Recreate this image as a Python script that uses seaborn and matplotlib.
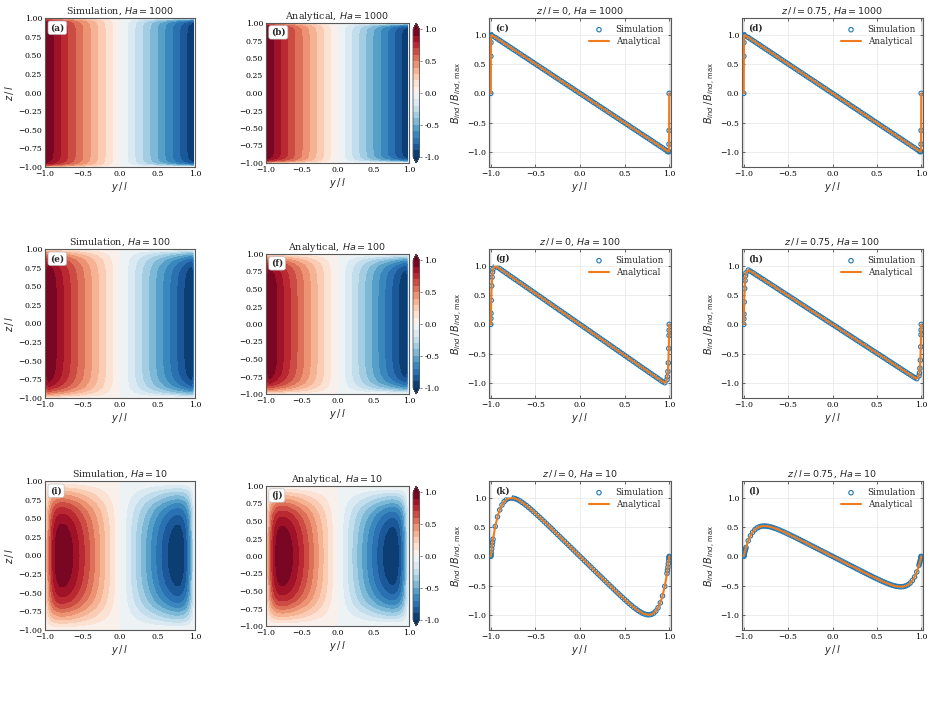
import numpy as np
import matplotlib
matplotlib.use('Agg')
import matplotlib.pyplot as plt
import seaborn as sns

# sample positions across the duct (y / l), shared by all profiles
y_pts = [-1.0, -0.999, -0.998, -0.995, -0.99, -0.985, -0.98,
         -0.975, -0.95, -0.925, -0.9, -0.875, -0.85, -0.825, -0.8, -0.775, -0.75,
         -0.725, -0.7, -0.675, -0.65, -0.625, -0.6, -0.575, -0.55, -0.525, -0.5,
         -0.475, -0.45, -0.425, -0.4, -0.375, -0.35, -0.325, -0.3, -0.275, -0.25,
         -0.225, -0.2, -0.175, -0.15, -0.125, -0.1, -0.075, -0.05, -0.025, 0.0,
         0.025, 0.05, 0.075, 0.1, 0.125, 0.15, 0.175, 0.2, 0.225, 0.25,
         0.275, 0.3, 0.325, 0.35, 0.375, 0.4, 0.425, 0.45, 0.475, 0.5,
         0.525, 0.55, 0.575, 0.6, 0.625, 0.65, 0.675, 0.7, 0.725, 0.75,
         0.775, 0.8, 0.825, 0.85, 0.875, 0.9, 0.925, 0.95, 0.975,
         0.98, 0.985, 0.99, 0.995, 0.998, 0.999, 1.0]

# B_ind / B_ind,max along y (c), (g), (k) at z/l = 0
b_ha1000_z0 = [0.0, 0.636, 0.870, 0.996, 0.998, 0.993, 0.988,
               0.983, 0.958, 0.932, 0.907, 0.882, 0.857, 0.832, 0.806, 0.781, 0.756,
               0.731, 0.706, 0.680, 0.655, 0.630, 0.605, 0.580, 0.554, 0.529, 0.504,
               0.479, 0.454, 0.428, 0.403, 0.378, 0.353, 0.328, 0.302, 0.277, 0.252,
               0.227, 0.202, 0.176, 0.151, 0.126, 0.101, 0.076, 0.050, 0.025, 0.0,
               -0.025, -0.050, -0.076, -0.101, -0.126, -0.151, -0.176, -0.202, -0.227, -0.252,
               -0.277, -0.302, -0.328, -0.353, -0.378, -0.403, -0.428, -0.454, -0.479, -0.504,
               -0.529, -0.554, -0.580, -0.605, -0.630, -0.655, -0.680, -0.706, -0.731, -0.756,
               -0.781, -0.806, -0.832, -0.857, -0.882, -0.907, -0.932, -0.958, -0.983,
               -0.988, -0.993, -0.998, -0.996, -0.870, -0.636, 0.0]
b_ha100_z0 = [0.0, 0.100, 0.190, 0.412, 0.659, 0.807, 0.895,
              0.946, 0.999, 0.979, 0.953, 0.927, 0.900, 0.874, 0.847, 0.821, 0.794,
              0.768, 0.742, 0.715, 0.689, 0.662, 0.636, 0.609, 0.583, 0.556, 0.530,
              0.503, 0.477, 0.450, 0.424, 0.397, 0.371, 0.344, 0.318, 0.291, 0.265,
              0.238, 0.212, 0.185, 0.159, 0.132, 0.106, 0.079, 0.053, 0.026, 0.0,
              -0.026, -0.053, -0.079, -0.106, -0.132, -0.159, -0.185, -0.212, -0.238, -0.265,
              -0.291, -0.318, -0.344, -0.371, -0.397, -0.424, -0.450, -0.477, -0.503, -0.530,
              -0.556, -0.583, -0.609, -0.636, -0.662, -0.689, -0.715, -0.742, -0.768, -0.794,
              -0.821, -0.847, -0.874, -0.900, -0.927, -0.953, -0.979, -0.999, -0.946,
              -0.895, -0.807, -0.659, -0.412, -0.190, -0.100, 0.0]
b_ha10_z0 = [0.0, 0.013, 0.027, 0.065, 0.127, 0.186, 0.241,
             0.293, 0.513, 0.676, 0.795, 0.879, 0.936, 0.972, 0.992, 1.000, 0.997,
             0.987, 0.971, 0.950, 0.925, 0.898, 0.869, 0.837, 0.805, 0.771, 0.736,
             0.701, 0.666, 0.630, 0.594, 0.557, 0.520, 0.484, 0.447, 0.410, 0.372,
             0.335, 0.298, 0.261, 0.224, 0.186, 0.149, 0.112, 0.075, 0.037, 0.0,
             -0.037, -0.075, -0.112, -0.149, -0.186, -0.224, -0.261, -0.298, -0.335, -0.372,
             -0.410, -0.447, -0.484, -0.520, -0.557, -0.594, -0.630, -0.666, -0.701, -0.736,
             -0.771, -0.805, -0.837, -0.869, -0.898, -0.925, -0.950, -0.971, -0.987, -0.997,
             -1.000, -0.992, -0.972, -0.936, -0.879, -0.795, -0.676, -0.513, -0.293,
             -0.241, -0.186, -0.127, -0.065, -0.027, -0.013, 0.0]

# same, at z/l = 0.75 (d), (h), (l)
b_ha1000_z075 = list(b_ha1000_z0)  # reads identical to z/l = 0
b_ha100_z075 = [0.0, 0.093, 0.177, 0.383, 0.613, 0.751, 0.832,
                0.880, 0.929, 0.910, 0.886, 0.862, 0.837, 0.813, 0.788, 0.764, 0.738,
                0.714, 0.690, 0.665, 0.641, 0.616, 0.591, 0.566, 0.542, 0.517, 0.493,
                0.468, 0.444, 0.419, 0.394, 0.369, 0.345, 0.320, 0.296, 0.271, 0.246,
                0.221, 0.197, 0.172, 0.148, 0.123, 0.099, 0.073, 0.049, 0.024, 0.0,
                -0.024, -0.049, -0.073, -0.099, -0.123, -0.148, -0.172, -0.197, -0.221, -0.246,
                -0.271, -0.296, -0.320, -0.345, -0.369, -0.394, -0.419, -0.444, -0.468, -0.493,
                -0.517, -0.542, -0.566, -0.591, -0.616, -0.641, -0.665, -0.690, -0.714, -0.738,
                -0.764, -0.788, -0.813, -0.837, -0.862, -0.886, -0.910, -0.929, -0.880,
                -0.832, -0.751, -0.613, -0.383, -0.177, -0.093, 0.0]
b_ha10_z075 = [0.0, 0.007, 0.014, 0.034, 0.066, 0.097, 0.125,
               0.152, 0.267, 0.352, 0.413, 0.457, 0.487, 0.505, 0.516, 0.520, 0.518,
               0.513, 0.505, 0.494, 0.481, 0.467, 0.452, 0.435, 0.419, 0.401, 0.383,
               0.365, 0.346, 0.328, 0.309, 0.290, 0.270, 0.252, 0.232, 0.213, 0.193,
               0.174, 0.155, 0.136, 0.116, 0.097, 0.077, 0.058, 0.039, 0.019, 0.0,
               -0.019, -0.039, -0.058, -0.077, -0.097, -0.116, -0.136, -0.155, -0.174, -0.193,
               -0.213, -0.232, -0.252, -0.270, -0.290, -0.309, -0.328, -0.346, -0.365, -0.383,
               -0.401, -0.419, -0.435, -0.452, -0.467, -0.481, -0.494, -0.505, -0.513, -0.518,
               -0.520, -0.516, -0.505, -0.487, -0.457, -0.413, -0.352, -0.267, -0.152,
               -0.125, -0.097, -0.066, -0.034, -0.014, -0.007, 0.0]

# decay of the field towards the z walls
z_pts = [-1.0, -0.99, -0.98, -0.97, -0.96, -0.95, -0.93, -0.9, -0.85, -0.8, -0.75,
         -0.7, -0.6, -0.5, -0.4, -0.3, -0.2, -0.1, 0.0, 0.1, 0.2, 0.3, 0.4, 0.5, 0.6,
         0.7, 0.75, 0.8, 0.85, 0.9, 0.93, 0.95, 0.96, 0.97, 0.98, 0.99, 1.0]
g_ha1000 = [0.0, 0.35, 0.55, 0.70, 0.80, 0.87, 0.94, 0.98, 0.995, 1.0, 1.0,
            1.0, 1.0, 1.0, 1.0, 1.0, 1.0, 1.0, 1.0, 1.0, 1.0, 1.0, 1.0, 1.0, 1.0,
            1.0, 1.0, 1.0, 0.995, 0.98, 0.94, 0.87, 0.80, 0.70, 0.55, 0.35, 0.0]
g_ha100 = [0.0, 0.10, 0.19, 0.27, 0.35, 0.41, 0.52, 0.65, 0.80, 0.88, 0.93,
           0.96, 0.986, 0.995, 1.0, 1.0, 1.0, 1.0, 1.0, 1.0, 1.0, 1.0, 1.0, 0.995, 0.986,
           0.96, 0.93, 0.88, 0.80, 0.65, 0.52, 0.41, 0.35, 0.27, 0.19, 0.10, 0.0]
g_ha10 = [0.0, 0.022, 0.044, 0.066, 0.088, 0.11, 0.155, 0.22, 0.33, 0.43, 0.52,
          0.62, 0.76, 0.85, 0.915, 0.955, 0.98, 0.995, 1.0, 0.995, 0.98, 0.955, 0.915, 0.85, 0.76,
          0.62, 0.52, 0.43, 0.33, 0.22, 0.155, 0.11, 0.088, 0.066, 0.044, 0.022, 0.0]

hartmann = [1000, 100, 10]
profiles_z0 = [b_ha1000_z0, b_ha100_z0, b_ha10_z0]
profiles_z075 = [b_ha1000_z075, b_ha100_z075, b_ha10_z075]
z_decay = [g_ha1000, g_ha100, g_ha10]
panel_tags = ['a', 'b', 'c', 'd', 'e', 'f', 'g', 'h', 'i', 'j', 'k', 'l']

sns.set_theme(style='ticks')
plt.rcParams['font.family'] = ['DejaVu Serif', 'DejaVu Sans']
plt.rcParams.update({
    'mathtext.fontset': 'dejavusans',
    'xtick.direction': 'in', 'ytick.direction': 'in',
    'xtick.top': True, 'ytick.right': True,
    'xtick.major.size': 2.5, 'ytick.major.size': 2.5,
    'xtick.major.width': 0.6, 'ytick.major.width': 0.6,
    'xtick.color': '0.3', 'ytick.color': '0.3',
    'xtick.labelcolor': 'black', 'ytick.labelcolor': 'black',
    'xtick.labelsize': 5.6, 'ytick.labelsize': 5.6,
    'xtick.major.pad': 2, 'ytick.major.pad': 2,
    'axes.edgecolor': '0.35', 'axes.linewidth': 0.8,
    'axes.titlesize': 6.8, 'axes.labelsize': 7, 'axes.titlepad': 3,
    'axes.labelpad': 1.5,
})

blue = '#1f77b4'
orange = '#ef7b1e'
levels = np.linspace(-1, 1, 21)
W, H = 934, 705


def box(left, top, width, height):
    return [left / W, 1 - (top + height) / H, width / W, height / H]


def tag(ax, letter, framed):
    ax.text(0.035, 0.965, f'({letter})', transform=ax.transAxes, fontsize=6.3,
            fontweight='bold', va='top', ha='left', zorder=10,
            bbox=dict(boxstyle='round,pad=0.25', fc='white',
                      ec='0.75' if framed else 'none', lw=0.5))


fig = plt.figure(figsize=(W / 100, H / 100), dpi=100)
row_tops = [18, 249, 481]

for r, ha in enumerate(hartmann):
    top = row_tops[r]
    field = np.outer(z_decay[r], profiles_z0[r])

    # contour maps: simulation and analytical
    ax_sim = fig.add_axes(box(45, top, 150, 149))
    ax_ana = fig.add_axes(box(266, top + 5, 143, 140))
    for ax, name, k in [(ax_sim, 'Simulation', 0), (ax_ana, 'Analytical', 1)]:
        cf = ax.contourf(y_pts, z_pts, field, levels=levels, cmap='RdBu_r', extend='both')
        ax.set_xlim(-1, 1)
        ax.set_ylim(-1, 1)
        ax.set_xticks([-1.0, -0.5, 0.0, 0.5, 1.0])
        ax.set_yticks([-1.0, -0.75, -0.5, -0.25, 0.0, 0.25, 0.5, 0.75, 1.0])
        ax.xaxis.set_major_formatter('{x:.1f}')
        ax.yaxis.set_major_formatter('{x:.2f}')
        ax.set_title(f'{name}, $Ha = {ha}$')
        ax.set_xlabel(r'$y\,/\,l$')
        tag(ax, panel_tags[4 * r + k], True)
    ax_sim.set_ylabel(r'$z\,/\,l$')

    cax = fig.add_axes(box(413, top + 5, 6.5, 140))
    cb = fig.colorbar(cf, cax=cax, ticks=[-1.0, -0.5, 0.0, 0.5, 1.0], format='%.1f')
    cb.outline.set_edgecolor('0.35')
    cb.outline.set_linewidth(0.6)
    cb.ax.tick_params(labelsize=5.6, length=1.5, width=0.5, direction='out', right=True)

    # line profiles at z/l = 0 and z/l = 0.75
    for k, (zl, prof, left, width) in enumerate([('0', profiles_z0[r], 489, 182),
                                                  ('0.75', profiles_z075[r], 742, 181)]):
        ax = fig.add_axes(box(left, top, width, 149))
        ax.axvspan(-1.05, -1.0, color='0.88', lw=0, zorder=0)
        ax.axvspan(1.0, 1.05, color='0.88', lw=0, zorder=0)
        ax.grid(True, color='0.9', lw=0.5, zorder=0)
        sns.scatterplot(x=y_pts, y=prof, ax=ax, marker='o', s=10, facecolor='none',
                        edgecolor=blue, linewidth=0.8, label='Simulation', zorder=3)
        sns.lineplot(x=y_pts, y=prof, ax=ax, color=orange, lw=1.5, label='Analytical',
                     zorder=4)
        ax.set_xlim(-1.02, 1.02)
        ax.set_ylim(-1.26, 1.29)
        ax.set_xticks([-1.0, -0.5, 0.0, 0.5, 1.0])
        ax.set_yticks([-1.0, -0.5, 0.0, 0.5, 1.0])
        ax.xaxis.set_major_formatter('{x:.1f}')
        ax.yaxis.set_major_formatter('{x:.1f}')
        ax.set_title(rf'$z\,/\,l = {zl}$, $Ha = {ha}$')
        ax.set_xlabel(r'$y\,/\,l$')
        ax.set_ylabel(r'$B_{ind}\,/\,B_{ind,\,\max}$')
        ax.legend(loc='upper right', frameon=False, fontsize=6.3, handlelength=2.2,
                  borderaxespad=0.4, labelspacing=0.35, handletextpad=0.8)
        tag(ax, panel_tags[4 * r + 2 + k], False)

fig.savefig('out.png', dpi=100)
